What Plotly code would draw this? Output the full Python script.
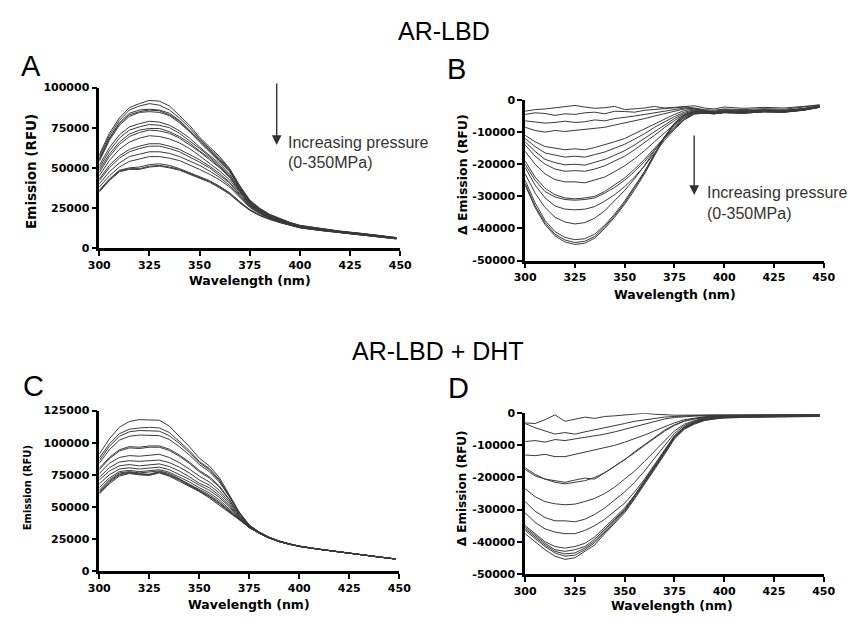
import plotly.graph_objects as go

# ---------------- data (emission values in thousands of RFU) ----------------
wavelength = [300, 305, 310, 315, 320, 325, 330, 335, 340, 345, 350, 355, 360,
              365, 370, 375, 380, 385, 390, 395, 400, 410, 420, 430, 440, 448]

# Panel A: AR-LBD emission spectra (0-350 MPa)
A_curves = [
    [58.0,71.5,81.0,87.5,90.0,92.0,91.5,88.5,82.5,76.5,69.0,63.0,57.0,49.5,39.0,30.0,24.8,21.0,18.4,16.0,14.2,12.2,10.6,9.3,8.0,6.6],
    [57.0,70.0,79.5,86.0,88.5,90.0,89.0,86.0,81.0,75.0,68.0,62.0,56.0,49.0,38.5,29.5,24.5,20.8,18.2,15.9,14.0,12.1,10.5,9.2,7.9,6.5],
    [55.5,68.5,78.0,84.0,86.0,86.5,86.0,84.0,79.5,73.5,67.0,61.0,55.0,48.5,38.0,29.2,24.2,20.6,18.0,15.8,13.9,12.0,10.4,9.1,7.8,6.4],
    [55.0,68.0,77.5,83.0,85.0,86.0,85.5,83.0,79.0,73.0,66.5,60.5,54.5,48.0,37.5,29.0,24.0,20.4,17.9,15.7,13.8,11.9,10.3,9.0,7.8,6.3],
    [54.0,67.0,76.5,82.0,84.5,85.0,84.5,82.5,78.0,72.5,66.0,60.0,54.0,47.5,37.2,28.8,23.8,20.3,17.8,15.6,13.7,11.8,10.3,9.0,7.7,6.3],
    [51.5,62.5,70.5,75.5,77.5,79.0,78.5,76.5,73.0,68.5,63.0,58.0,52.5,46.0,36.5,28.3,23.4,20.0,17.6,15.4,13.6,11.7,10.2,8.9,7.6,6.2],
    [50.0,60.5,68.5,73.5,75.5,77.0,76.5,75.0,71.5,67.0,62.0,57.0,51.5,45.5,36.0,28.0,23.2,19.8,17.4,15.3,13.5,11.6,10.1,8.9,7.6,6.2],
    [48.5,58.5,66.0,71.0,73.5,74.5,74.5,72.5,69.5,65.5,60.5,56.0,50.5,44.5,35.5,27.6,22.9,19.6,17.3,15.2,13.4,11.6,10.1,8.8,7.5,6.1],
    [47.0,57.0,64.5,69.5,72.0,73.5,73.0,71.5,68.5,64.5,60.0,55.0,50.0,44.0,35.2,27.4,22.8,19.5,17.2,15.1,13.3,11.5,10.0,8.8,7.5,6.1],
    [45.0,54.5,61.5,66.0,68.5,70.0,69.5,68.0,65.5,62.0,57.5,53.0,48.0,42.5,34.5,27.0,22.5,19.3,17.0,15.0,13.2,11.4,10.0,8.7,7.4,6.0],
    [43.0,51.5,57.5,61.5,63.5,65.0,65.0,63.5,61.5,58.5,55.0,51.0,46.5,41.0,33.5,26.5,22.2,19.1,16.8,14.9,13.1,11.4,9.9,8.7,7.4,6.0],
    [42.0,50.0,56.0,60.0,62.0,63.5,63.5,62.0,60.0,57.0,53.5,50.0,45.5,40.5,33.0,26.2,22.0,19.0,16.7,14.8,13.0,11.3,9.9,8.6,7.3,6.0],
    [40.0,47.5,53.0,57.0,58.5,60.0,60.0,59.0,57.0,54.5,51.5,48.0,44.0,39.0,32.2,25.7,21.7,18.8,16.5,14.7,12.9,11.2,9.8,8.6,7.3,5.9],
    [38.0,45.0,50.5,54.0,55.5,57.0,57.0,56.0,54.5,52.0,49.0,46.0,42.5,38.0,31.5,25.3,21.4,18.6,16.4,14.6,12.9,11.2,9.8,8.5,7.2,5.9],
    [36.0,43.0,48.5,50.0,50.5,52.0,52.5,51.5,49.5,47.0,44.5,42.0,38.5,34.5,29.0,24.0,20.6,18.1,16.1,14.4,12.8,11.1,9.7,8.5,7.2,5.8],
    [35.5,42.5,48.0,49.5,49.5,51.0,51.5,50.5,49.0,46.5,44.0,41.5,38.0,34.0,28.6,23.8,20.4,18.0,16.0,14.3,12.7,11.0,9.7,8.4,7.1,5.8],
    [35.0,42.0,47.5,49.0,49.0,50.5,51.0,50.0,48.5,46.0,43.5,41.0,37.5,33.5,28.2,23.5,20.2,17.8,15.9,14.2,12.6,11.0,9.6,8.4,7.1,5.7],
]

# Panel B: AR-LBD difference spectra
B_curves = [
    [-3.5,-3.0,-2.8,-2.5,-2.0,-1.7,-2.2,-2.6,-2.4,-2.0,-3.0,-2.8,-2.5,-2.0,-2.5,-2.3,-2.0,-1.8,-2.5,-2.8,-2.2,-2.6,-2.3,-2.5,-2.0,-1.5],
    [-4.5,-4.0,-4.2,-4.8,-4.3,-4.5,-4.0,-3.8,-4.3,-3.5,-3.6,-3.8,-3.2,-3.0,-2.8,-2.6,-2.2,-2.5,-3.0,-3.2,-2.8,-3.0,-2.7,-2.9,-2.3,-1.6],
    [-6.5,-6.8,-7.2,-7.0,-6.6,-7.0,-6.8,-6.2,-6.5,-5.8,-5.5,-5.0,-4.5,-4.0,-3.5,-3.0,-2.5,-2.6,-3.3,-3.5,-3.0,-3.3,-3.0,-3.2,-2.6,-1.8],
    [-8.5,-9.5,-10.0,-9.5,-9.8,-9.5,-9.0,-8.8,-8.5,-7.8,-7.2,-6.5,-5.8,-5.0,-4.2,-3.5,-2.8,-2.7,-3.4,-3.7,-3.2,-3.5,-3.1,-3.3,-2.7,-1.9],
    [-11.0,-13.0,-14.5,-15.0,-15.5,-15.2,-15.5,-14.8,-14.0,-13.0,-12.0,-10.5,-9.0,-7.3,-5.8,-4.5,-3.3,-2.8,-3.5,-3.8,-3.4,-3.6,-3.2,-3.4,-2.8,-2.0],
    [-12.0,-14.5,-16.5,-17.2,-17.8,-17.5,-17.8,-17.0,-16.2,-15.0,-13.8,-12.2,-10.5,-8.5,-6.8,-5.2,-3.8,-3.1,-3.6,-3.9,-3.5,-3.7,-3.3,-3.5,-2.9,-2.0],
    [-13.0,-16.0,-18.5,-19.5,-20.2,-20.0,-20.3,-19.5,-18.5,-17.2,-15.8,-14.0,-12.0,-9.8,-7.8,-5.8,-4.2,-3.3,-3.7,-4.0,-3.6,-3.8,-3.4,-3.6,-3.0,-2.1],
    [-14.0,-17.5,-20.0,-21.5,-22.2,-22.0,-22.2,-21.5,-20.5,-19.0,-17.5,-15.5,-13.3,-11.0,-8.6,-6.4,-4.6,-3.5,-3.8,-4.1,-3.7,-3.9,-3.5,-3.7,-3.0,-2.1],
    [-16.0,-20.0,-23.0,-24.8,-25.5,-25.5,-25.8,-25.0,-24.0,-22.3,-20.5,-18.3,-15.8,-13.0,-10.2,-7.6,-5.3,-3.9,-4.0,-4.2,-3.8,-4.0,-3.6,-3.7,-3.1,-2.2],
    [-19.0,-24.0,-27.5,-29.5,-30.5,-30.8,-30.5,-30.0,-28.5,-26.5,-24.3,-21.5,-18.5,-15.0,-11.6,-8.5,-5.8,-4.2,-4.1,-4.3,-3.9,-4.1,-3.6,-3.8,-3.1,-2.2],
    [-20.0,-25.0,-28.5,-30.2,-31.0,-31.2,-31.0,-30.5,-29.0,-27.2,-25.0,-22.3,-19.2,-15.6,-12.0,-8.8,-6.0,-4.3,-4.1,-4.3,-3.9,-4.1,-3.7,-3.8,-3.2,-2.3],
    [-21.0,-26.5,-30.5,-33.0,-34.0,-34.2,-34.0,-33.2,-31.5,-29.5,-27.0,-24.0,-20.5,-16.6,-12.6,-9.2,-6.2,-4.4,-4.1,-4.3,-4.0,-4.1,-3.7,-3.8,-3.2,-2.3],
    [-23.0,-29.0,-33.5,-36.5,-38.0,-38.6,-38.2,-36.8,-34.5,-31.5,-28.2,-24.5,-20.4,-15.8,-11.5,-8.0,-5.4,-4.0,-4.0,-4.2,-3.9,-4.0,-3.6,-3.7,-3.1,-2.2],
    [-25.0,-32.0,-37.5,-41.0,-42.8,-43.5,-43.2,-41.8,-39.0,-35.5,-31.5,-27.0,-22.2,-16.8,-11.5,-7.4,-4.9,-3.8,-3.9,-4.1,-3.8,-3.9,-3.5,-3.6,-3.0,-2.1],
    [-26.0,-33.0,-38.2,-41.8,-43.6,-44.4,-44.0,-42.5,-39.5,-36.0,-32.0,-27.5,-22.6,-17.0,-11.6,-7.3,-4.8,-3.7,-3.8,-4.0,-3.7,-3.8,-3.4,-3.5,-2.9,-2.0],
    [-26.5,-33.5,-38.8,-42.3,-44.2,-45.0,-44.6,-43.0,-40.0,-36.5,-32.5,-28.0,-23.0,-17.3,-11.8,-7.2,-4.6,-3.6,-3.7,-3.9,-3.6,-3.7,-3.3,-3.4,-2.8,-1.9],
]

# Panel C: AR-LBD + DHT emission spectra
C_curves = [
    [91.0,103.0,112.0,116.5,118.0,118.0,117.5,113.0,105.0,97.0,88.0,82.0,73.0,60.0,46.0,36.0,30.5,26.5,23.5,21.3,19.6,17.2,15.0,13.1,11.1,9.6],
    [88.0,99.0,107.0,110.5,111.5,112.0,111.5,108.0,101.0,94.0,85.5,80.0,71.5,59.0,45.5,35.8,30.3,26.4,23.4,21.2,19.5,17.1,14.9,13.1,11.1,9.6],
    [86.0,97.0,105.0,108.5,109.5,109.5,109.0,105.5,99.5,92.5,84.5,79.0,70.5,58.5,45.2,35.6,30.2,26.3,23.4,21.2,19.5,17.1,14.9,13.1,11.1,9.6],
    [84.0,94.5,102.0,105.0,106.0,106.0,105.5,102.5,97.0,90.5,83.0,77.5,69.5,58.0,45.0,35.5,30.1,26.2,23.3,21.1,19.4,17.1,14.9,13.0,11.0,9.5],
    [80.0,88.5,94.5,97.0,96.5,97.5,97.5,95.0,90.5,85.0,78.5,73.5,66.5,56.0,44.0,35.0,29.9,26.1,23.2,21.1,19.4,17.0,14.9,13.0,11.0,9.5],
    [79.0,87.5,93.5,96.0,95.5,96.5,96.5,94.0,89.5,84.0,77.5,72.5,65.5,55.5,43.8,34.9,29.8,26.0,23.2,21.0,19.4,17.0,14.8,13.0,11.0,9.5],
    [76.0,84.0,88.5,90.0,89.5,90.5,91.0,88.5,84.5,79.5,74.0,69.5,63.0,54.0,43.0,34.6,29.7,25.9,23.1,21.0,19.3,17.0,14.8,13.0,11.0,9.5],
    [73.0,80.5,85.0,86.0,85.5,86.0,86.5,84.5,81.0,76.5,71.0,67.0,61.0,52.5,42.3,34.4,29.6,25.8,23.0,20.9,19.3,17.0,14.8,13.0,11.0,9.5],
    [71.0,78.0,82.0,83.0,82.0,82.5,83.5,81.5,78.0,73.5,68.5,65.0,59.0,51.0,41.8,34.2,29.6,25.8,23.0,20.9,19.3,17.0,14.8,13.0,11.0,9.5],
    [68.0,75.0,79.5,80.5,79.5,80.0,81.0,79.0,75.5,71.5,67.0,63.0,57.5,50.0,41.2,34.1,29.5,25.8,23.0,20.9,19.3,17.0,14.8,13.0,11.0,9.5],
    [65.0,72.5,77.5,78.5,77.5,78.0,79.0,77.0,73.5,69.5,65.0,61.0,55.5,48.5,40.8,34.0,29.5,25.8,23.0,20.9,19.3,17.0,14.8,13.0,11.0,9.5],
    [63.0,71.0,76.5,77.5,76.5,77.0,78.0,76.0,72.0,68.0,64.0,59.5,54.0,47.5,40.5,34.0,29.5,25.8,23.0,20.9,19.3,17.0,14.8,13.0,11.0,9.5],
    [62.0,70.0,75.5,77.0,76.0,75.5,77.5,75.0,71.5,67.0,63.0,58.5,53.0,47.0,40.3,34.0,29.5,25.9,23.0,20.9,19.3,17.0,14.8,13.0,11.0,9.5],
    [61.0,69.0,75.0,76.5,75.5,75.0,77.0,74.5,71.0,66.5,62.5,58.0,52.5,46.5,40.2,34.0,29.5,25.9,23.0,21.0,19.3,17.0,14.8,13.0,11.0,9.5],
    [60.0,68.0,74.0,76.0,75.0,74.5,76.5,74.0,70.0,66.0,62.0,57.0,51.5,46.0,40.0,34.0,29.5,26.0,23.0,21.0,19.3,17.0,14.8,13.0,11.0,9.5],
]

# Panel D: AR-LBD + DHT difference spectra
D_curves = [
    [-3.0,-3.2,-2.0,-0.5,-2.5,-1.8,-1.2,-1.6,-1.0,-0.8,-0.5,-0.3,0.0,-0.3,-0.5,-0.6,-0.6,-0.5,-0.6,-0.5,-0.5,-0.5,-0.5,-0.4,-0.4,-0.4],
    [-3.2,-4.5,-5.5,-6.5,-6.0,-6.5,-5.8,-5.2,-4.5,-3.8,-3.2,-2.5,-2.0,-1.5,-1.2,-1.0,-0.8,-0.7,-0.7,-0.6,-0.6,-0.6,-0.6,-0.5,-0.5,-0.5],
    [-8.8,-8.5,-9.0,-8.2,-8.5,-8.0,-7.5,-7.2,-6.5,-5.8,-5.0,-4.2,-3.3,-2.5,-1.8,-1.3,-1.0,-0.9,-0.8,-0.7,-0.7,-0.7,-0.6,-0.6,-0.6,-0.6],
    [-13.0,-13.2,-12.8,-13.5,-13.5,-12.8,-12.2,-11.5,-10.8,-10.0,-9.0,-8.0,-6.8,-5.5,-4.2,-3.0,-2.0,-1.5,-1.1,-0.9,-0.8,-0.7,-0.7,-0.7,-0.6,-0.6],
    [-17.5,-19.5,-20.5,-21.0,-21.5,-20.8,-20.2,-20.5,-18.5,-16.5,-14.5,-12.0,-9.8,-7.5,-5.3,-3.6,-2.4,-1.7,-1.2,-1.0,-0.8,-0.8,-0.7,-0.7,-0.7,-0.7],
    [-17.0,-19.0,-20.5,-21.5,-22.0,-21.5,-21.0,-20.0,-18.5,-16.5,-14.5,-12.3,-10.0,-7.8,-5.6,-3.8,-2.5,-1.8,-1.3,-1.0,-0.8,-0.8,-0.7,-0.7,-0.7,-0.7],
    [-23.5,-26.0,-27.5,-28.2,-28.5,-28.3,-27.5,-26.5,-25.0,-23.0,-20.5,-18.0,-15.0,-11.8,-8.5,-5.5,-3.4,-2.3,-1.5,-1.1,-0.9,-0.8,-0.8,-0.7,-0.7,-0.7],
    [-27.5,-30.5,-32.5,-33.5,-33.5,-33.8,-33.0,-31.5,-29.5,-27.0,-24.5,-21.5,-18.0,-14.0,-10.0,-6.3,-3.8,-2.5,-1.6,-1.1,-0.9,-0.8,-0.8,-0.7,-0.7,-0.7],
    [-31.0,-34.0,-36.0,-37.0,-37.5,-37.5,-36.5,-35.0,-33.0,-30.5,-28.0,-24.5,-20.5,-16.0,-11.5,-7.0,-4.2,-2.7,-1.7,-1.2,-0.9,-0.8,-0.8,-0.7,-0.7,-0.7],
    [-35.0,-37.5,-40.0,-41.5,-42.0,-41.5,-40.5,-38.5,-35.5,-32.5,-29.5,-25.5,-21.0,-16.5,-12.0,-7.2,-4.3,-2.9,-1.9,-1.4,-1.1,-1.0,-0.9,-0.9,-0.8,-0.8],
    [-35.5,-38.0,-40.5,-42.5,-43.0,-42.5,-41.5,-39.2,-36.0,-33.0,-30.0,-25.8,-21.3,-16.7,-12.2,-7.3,-4.4,-3.0,-2.0,-1.5,-1.2,-1.0,-1.0,-0.9,-0.9,-0.8],
    [-36.0,-38.5,-41.0,-43.0,-43.8,-43.5,-42.0,-39.8,-36.5,-33.4,-30.3,-26.0,-21.5,-16.9,-12.4,-7.5,-4.6,-3.1,-2.1,-1.6,-1.3,-1.1,-1.0,-1.0,-0.9,-0.9],
    [-36.5,-39.0,-41.5,-43.5,-44.5,-44.2,-42.5,-40.3,-37.0,-33.8,-30.6,-26.3,-21.8,-17.2,-12.6,-7.7,-4.8,-3.2,-2.2,-1.7,-1.4,-1.2,-1.1,-1.0,-1.0,-0.9],
    [-37.5,-40.0,-42.5,-44.5,-45.5,-45.0,-43.0,-41.0,-37.5,-34.3,-31.0,-26.7,-22.2,-17.5,-12.9,-8.0,-5.0,-3.4,-2.3,-1.8,-1.5,-1.3,-1.2,-1.1,-1.0,-1.0],
]

x_ticks = [300, 325, 350, 375, 400, 425, 450]
yA_ticks = [0, 25000, 50000, 75000, 100000]
yC_ticks = [0, 25000, 50000, 75000, 100000, 125000]
yBD_ticks = [0, -10000, -20000, -30000, -40000, -50000]

# ---------------- figure ----------------
W_PX, H_PX = 858, 619


def px(xp):
    return xp / W_PX


def py(yp):
    return 1 - yp / H_PX


fig = go.Figure()

panels = [
    ("x", "y", A_curves),
    ("x2", "y2", B_curves),
    ("x3", "y3", C_curves),
    ("x4", "y4", D_curves),
]
for xa, ya, curves in panels:
    for c in curves:
        fig.add_trace(go.Scatter(
            x=wavelength, y=[v * 1000 for v in c], mode="lines",
            line=dict(color="#3a3a3a", width=1), xaxis=xa, yaxis=ya,
            showlegend=False, hoverinfo="skip"))

tickfont = dict(family="DejaVu Sans", size=11, color="black", weight="bold")
common = dict(showline=True, linecolor="black", linewidth=2.5, ticks="outside",
              ticklen=5, tickwidth=2, tickcolor="black", showgrid=False,
              zeroline=False, tickfont=tickfont, fixedrange=True)


def xax(dom, anchor):
    return dict(common, domain=dom, range=[300, 450], tickvals=x_ticks,
                ticktext=[str(t) for t in x_ticks], anchor=anchor)


def yax(dom, rng, ticks, anchor):
    return dict(common, domain=dom, range=rng, tickvals=ticks,
                ticktext=[str(t) for t in ticks], anchor=anchor)


fig.update_layout(
    width=W_PX, height=H_PX,
    margin=dict(l=0, r=0, t=0, b=0),
    paper_bgcolor="white", plot_bgcolor="white",
    xaxis=xax([px(90.7), px(400)], "y"),
    yaxis=yax([py(247.3), py(83.3)], [0, 100000], yA_ticks, "x"),
    xaxis2=xax([px(528.3), px(835)], "y2"),
    yaxis2=yax([py(260), py(96)], [-50000, 0], yBD_ticks, "x2"),
    xaxis3=xax([px(90.7), px(399)], "y3"),
    yaxis3=yax([py(577.3), py(413.3)], [0, 125000], yC_ticks, "x3"),
    xaxis4=xax([px(528.3), px(835)], "y4"),
    yaxis4=yax([py(580), py(416)], [-50000, 0], yBD_ticks, "x4"),
)

ann = []


def text(t, x, y, size, family="Liberation Sans", bold=False, angle=0,
         xanchor="center", color="black"):
    f = dict(family=family, size=size, color=color)
    if bold:
        f["weight"] = "bold"
    ann.append(dict(text=t, x=px(x), y=py(y), xref="paper", yref="paper",
                    showarrow=False, xanchor=xanchor, yanchor="middle",
                    font=f, textangle=angle))


# group titles
text("AR-LBD", 445, 26, 25)
text("AR-LBD + DHT", 439, 352, 25)
# panel letters
text("A", 21, 61, 29)
text("B", 458, 64, 29)
text("C", 23, 388, 29)
text("D", 460, 390, 29)

# axis titles
axf = "DejaVu Sans"
text("Wavelength (nm)", 246, 280, 12.5, axf, True)
text("Wavelength (nm)", 682, 295, 12.5, axf, True)
text("Wavelength (nm)", 245, 611, 12.5, axf, True)
text("Wavelength (nm)", 679, 612, 12.5, axf, True)
text("Emission (RFU)", 21, 169, 13.5, axf, True, -90)
text("Δ Emission (RFU)", 464, 172, 12.5, axf, True, -90)
text("Emission (RFU)", 17, 492, 10, axf, True, -90)
text("Δ Emission (RFU)", 463, 493, 12, axf, True, -90)

# pressure arrows and labels
for (ax_x, tail_y, tip_y, tx, ty1, ty2) in [(273, 79, 142, 283, 139, 160),
                                            (702, 132, 193, 713, 190, 212)]:
    ann.append(dict(text="", x=px(ax_x), y=py(tip_y), xref="paper", yref="paper",
                    showarrow=True, ax=0, ay=-(tip_y - tail_y), axref="pixel",
                    ayref="pixel", arrowhead=2, arrowsize=1.4, arrowwidth=1.4,
                    arrowcolor="#333333", standoff=0))
    text("Increasing pressure", tx, ty1, 16, xanchor="left", color="#333333")
    text("(0-350MPa)", tx, ty2, 16, xanchor="left", color="#333333")

fig.update_layout(annotations=ann)

fig.write_html("out.html")
